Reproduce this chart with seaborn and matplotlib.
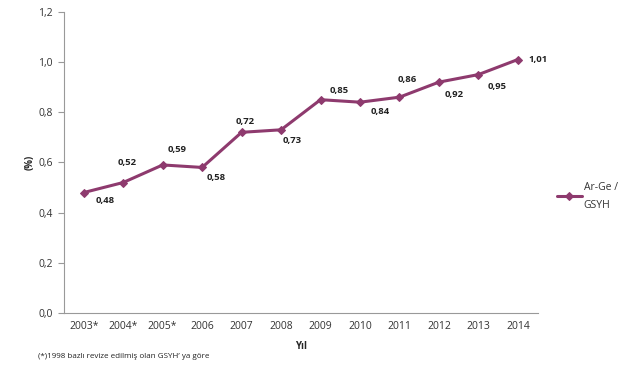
import matplotlib
matplotlib.use("Agg")
import matplotlib.pyplot as plt
import seaborn as sns
import pandas as pd

years = ["2003*", "2004*", "2005*", "2006", "2007", "2008", "2009", "2010", "2011", "2012", "2013", "2014"]
values = [0.48, 0.52, 0.59, 0.58, 0.72, 0.73, 0.85, 0.84, 0.86, 0.92, 0.95, 1.01]
labels = ["0,48", "0,52", "0,59", "0,58", "0,72", "0,73", "0,85", "0,84", "0,86", "0,92", "0,95", "1,01"]
# label offsets in pixels (dx, dy) relative to each point
label_dx = [21, 4, 14, 14, 4, 11, 19, 20, 8, 15, 19, 20]
label_dy = [-8, 20, 15, -10, 11, -11, 9, -9, 18, -12, -12, 0]
yticks = [0.0, 0.2, 0.4, 0.6, 0.8, 1.0, 1.2]
ytick_labels = ["0,0", "0,2", "0,4", "0,6", "0,8", "1,0", "1,2"]

sns.set_style("white")
plt.rcParams['font.family'] = ['Open Sans', 'DejaVu Sans']

color = "#8E3A6E"
df = pd.DataFrame({"Yıl": years, "val": values})

fig = plt.figure(figsize=(6.4, 3.7), dpi=100)
ax = fig.add_axes([0.1, 0.154, 0.74, 0.814])

sns.lineplot(data=df, x="Yıl", y="val", ax=ax, color=color, linewidth=2.2,
             marker="D", markersize=4, markeredgecolor=color, label="Ar-Ge /\nGSYH")

for i, (v, lab) in enumerate(zip(values, labels)):
    ax.annotate(lab, (i, v), xytext=(label_dx[i], label_dy[i]), textcoords="offset pixels",
                ha="center", va="center", fontsize=6.8, fontweight="bold", color="#222222")

ax.set_xlim(-0.5, 11.5)
ax.set_ylim(0, 1.2)
ax.set_yticks(yticks)
ax.set_yticklabels(ytick_labels, fontsize=7.5, color="#333333")
ax.tick_params(axis="x", labelsize=7.5, colors="#333333", length=0, pad=6)
ax.tick_params(axis="y", length=4, width=0.8, color="#999999", direction="out", left=True, pad=4)

for s in ["top", "right"]:
    ax.spines[s].set_visible(False)
for s in ["left", "bottom"]:
    ax.spines[s].set_color("#999999")
    ax.spines[s].set_linewidth(0.8)

ax.set_xlabel("Yıl", fontsize=7, fontweight="bold", labelpad=6)
ax.set_ylabel("(%)", fontsize=7, fontweight="bold", labelpad=2)

leg = ax.legend(loc="center left", bbox_to_anchor=(0.855, 0.47), bbox_transform=fig.transFigure,
                frameon=False, fontsize=7.5, handlelength=2.4, handletextpad=0.2)
for t in leg.get_texts():
    t.set_color("#333333")
    t.set_linespacing(1.9)

fig.text(0.06, 0.033, "(*)1998 bazlı revize edilmiş olan GSYH’ ya göre", fontsize=5.8, color="#222222")

fig.savefig("out.png", dpi=100)
